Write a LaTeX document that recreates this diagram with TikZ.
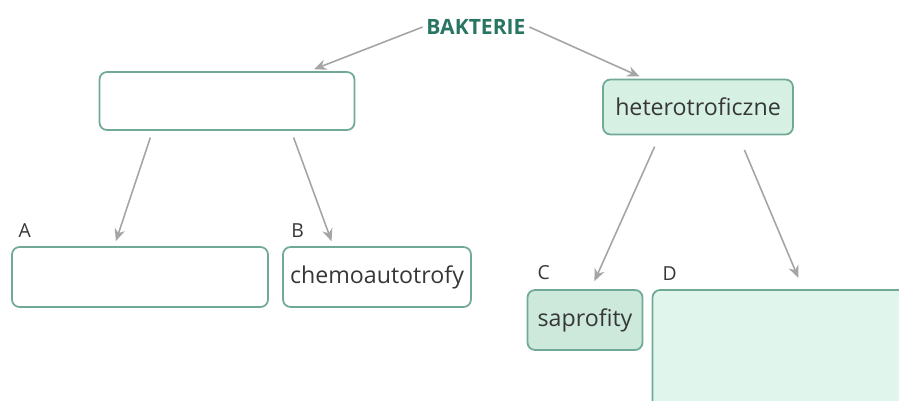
\documentclass[tikz,border=0pt]{standalone}
\usepackage{fontspec}
\setmainfont{Open Sans}
\usetikzlibrary{positioning,calc,arrows.meta}
\definecolor{boxBorder}{RGB}{112,170,150}
\definecolor{boxFill}{RGB}{214,240,228}
\definecolor{boxFillLight}{RGB}{224,246,236}
\definecolor{titleColor}{RGB}{40,118,98}
\definecolor{arrowColor}{RGB}{165,165,165}
\definecolor{textColor}{RGB}{55,55,55}
\tikzstyle{answerBox} = [draw=boxBorder, line width=1pt, rounded corners=.15cm, fill=white, text=textColor, font=\fontsize{13.2}{15}\selectfont, inner sep=0pt]
\tikzstyle{filledBox} = [answerBox, fill=boxFill]
\tikzstyle{letterLabel} = [text=textColor, font=\fontsize{11}{13}\selectfont, inner sep=0pt]
\tikzstyle{grayArrow} = [draw=arrowColor, line width=.9pt, -{Stealth[length=7pt,width=6pt]}, shorten >=3pt]
\newcommand{\pointOn}[2]{($(#1.south west)!#2!(#1.south east)$)}
\begin{document}
\begin{tikzpicture}[x=0.02cm, y=-0.02cm]
  \clip (0,0) rectangle (899,400);
  \fill[white] (0,0) rectangle (899,400);

  % top of the tree
  \node[font=\fontsize{12}{14}\selectfont\bfseries, text=titleColor, inner sep=2pt] (bakterie) at (476,27) {BAKTERIE};
  \node[answerBox, minimum width=5.1cm, minimum height=1.16cm] (autoBox) at (227,101) {};
  \node[filledBox, minimum width=3.8cm, minimum height=1.1cm] (heteroBox) at (698,107) {heterotroficzne};

  % lower boxes
  \node[answerBox, minimum width=5.12cm, minimum height=1.2cm] (boxA) at (140,277) {};
  \node[answerBox, minimum width=3.76cm, minimum height=1.2cm] (boxB) at (377,277) {chemoautotrofy};
  \node[filledBox, fill=boxFill!90!boxBorder, minimum width=2.3cm, minimum height=1.2cm] (boxC) at (585,320) {saprofity};
  \node[filledBox, fill=boxFillLight, minimum width=5.1cm, minimum height=2.4cm] (boxD) at (780,350) {};

  \node[letterLabel, above right=5pt and 4pt of boxA.north west] (labelA) {A};
  \node[letterLabel, above right=5pt and 5pt of boxB.north west] (labelB) {B};
  \node[letterLabel, above right=5pt and 6pt of boxC.north west] (labelC) {C};
  \node[letterLabel, above right=5pt and 6pt of boxD.north west] (labelD) {D};

  % arrows
  \draw[grayArrow] (bakterie.west) -- ($(autoBox.north west)!0.82!(autoBox.north east)$);
  \draw[grayArrow] (bakterie.east) -- ($(heteroBox.north west)!0.22!(heteroBox.north east)$);
  \draw[grayArrow, shorten <=4pt] \pointOn{autoBox}{0.21} -- ($(boxA.north west)!0.4!(boxA.north east)$);
  \draw[grayArrow, shorten <=4pt] \pointOn{autoBox}{0.75} -- ($(boxB.north west)!0.27!(boxB.north east)$);
  \draw[grayArrow, shorten <=7pt, shorten >=5pt] \pointOn{heteroBox}{0.3} -- ($(boxC.north west)!0.55!(boxC.north east)$);
  \draw[grayArrow, shorten <=9pt, shorten >=7pt] \pointOn{heteroBox}{0.71} -- ($(boxD.north west)!0.59!(boxD.north east)$);
\end{tikzpicture}
\end{document}
